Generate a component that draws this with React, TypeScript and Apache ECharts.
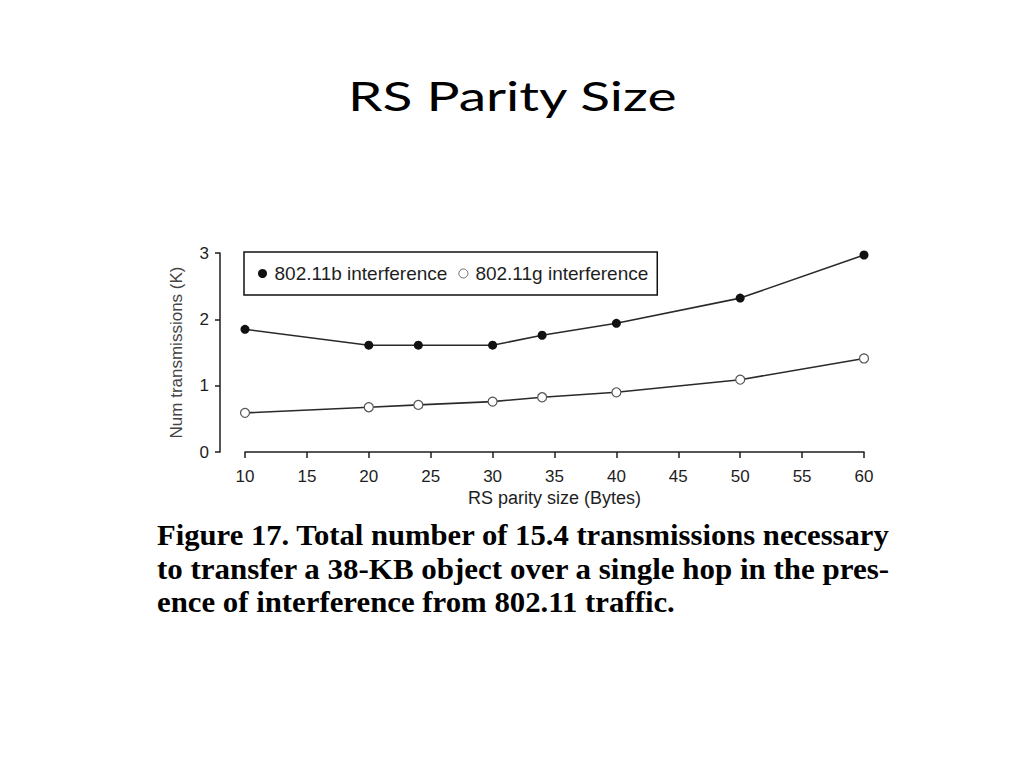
import { useEffect, useRef } from 'react'
import * as echarts from 'echarts'

const parity = [10, 20, 24, 30, 34, 40, 50, 60]
const bInterference = [1.85, 1.61, 1.61, 1.61, 1.76, 1.94, 2.32, 2.97]
const gInterference = [0.59, 0.675, 0.71, 0.76, 0.825, 0.9, 1.09, 1.41]
const seriesNames = ['802.11b interference', '802.11g interference']

const titleText = 'RS Parity Size'
const xName = 'RS parity size (Bytes)'
const yName = 'Num transmissions (K)'
const captionLines = [
  'Figure 17. Total number of 15.4 transmissions necessary',
  'to transfer a 38-KB object over a single hop in the pres-',
  'ence of interference from 802.11 traffic.',
]

const INK = '#1e1e1e'
const SANS = '"Liberation Sans", Arial, sans-serif'
const TITLE_FONT = '41px Lato, "Open Sans", sans-serif'
const CAPTION_FONT = '"Liberation Serif", "Times New Roman", serif'
const CAPTION_SIZE = 29

function textWidth(text: string, font: string, fallback: number) {
  const ctx = document.createElement('canvas').getContext('2d')
  if (!ctx) return fallback
  ctx.font = font
  return ctx.measureText(text).width || fallback
}

export default function App() {
  const chartRef = useRef<HTMLDivElement>(null)

  useEffect(() => {
    if (!chartRef.current) return
    const chart = echarts.init(chartRef.current, undefined, { renderer: 'svg' })

    // the slide is stretched sideways: title spans 348..678
    const titleScale = 330 / textWidth(titleText, TITLE_FONT, 244)

    // caption is justified: first two lines stretched to the full width
    const font = `bold ${CAPTION_SIZE}px ${CAPTION_FONT}`
    const fullWidth = 890 - 157
    const s1 = fullWidth / textWidth(captionLines[0], font, 730)
    const s2 = fullWidth / textWidth(captionLines[1], font, 730)
    const scales = [s1, s2, (s1 + s2) / 2]
    const lineY = [535, 568.5, 602]

    const option: echarts.EChartsOption = {
      animation: false,
      backgroundColor: '#fff',
      graphic: [
        {
          type: 'text',
          x: 348,
          y: 95,
          scaleX: titleScale,
          style: {
            text: titleText,
            font: TITLE_FONT,
            fill: '#000',
            textAlign: 'left',
            textVerticalAlign: 'middle',
          },
        },
        ...captionLines.map((line, i) => ({
          type: 'text' as const,
          x: 157,
          y: lineY[i],
          scaleX: scales[i],
          style: {
            text: line,
            font,
            fill: '#000',
            textAlign: 'left' as const,
            textVerticalAlign: 'middle' as const,
          },
        })),
      ],
      legend: {
        left: 244,
        top: 252,
        orient: 'horizontal',
        padding: [12, 9, 12, 14],
        itemGap: 11,
        itemWidth: 14,
        itemHeight: 9,
        borderColor: '#111',
        borderWidth: 1.5,
        borderRadius: 0,
        textStyle: { fontFamily: SANS, fontSize: 19, color: INK },
        data: [
          { name: seriesNames[0], icon: 'circle', itemStyle: { color: '#111', borderWidth: 0 } },
          {
            name: seriesNames[1],
            icon: 'circle',
            itemStyle: { color: '#fff', borderColor: '#666', borderWidth: 1 },
          },
        ],
      },
      grid: { left: 245, right: 160, top: 253, bottom: 316 },
      xAxis: {
        type: 'value',
        min: 10,
        max: 60,
        interval: 5,
        offset: 7,
        name: xName,
        nameLocation: 'middle',
        nameGap: 30,
        nameTextStyle: { fontFamily: SANS, fontSize: 18, color: INK },
        axisLine: { lineStyle: { color: INK, width: 1.5 } },
        axisTick: { show: true, length: 6, lineStyle: { color: INK, width: 1.5 } },
        axisLabel: { margin: 9, fontFamily: SANS, fontSize: 17, color: INK },
        splitLine: { show: false },
      },
      yAxis: {
        type: 'value',
        min: 0,
        max: 3,
        interval: 1,
        offset: 25,
        name: yName,
        nameLocation: 'middle',
        nameGap: 35,
        nameRotate: 90,
        nameTextStyle: { fontFamily: SANS, fontSize: 17, color: '#444' },
        axisLine: { show: true, lineStyle: { color: INK, width: 1.5 } },
        axisTick: { show: true, length: 5, lineStyle: { color: INK, width: 1.5 } },
        axisLabel: { margin: 11, fontFamily: SANS, fontSize: 17, color: INK },
        splitLine: { show: false },
      },
      series: [
        {
          name: seriesNames[0],
          type: 'line',
          data: parity.map((x, i) => [x, bInterference[i]]),
          symbol: 'circle',
          symbolSize: 9,
          lineStyle: { color: '#2a2a2a', width: 1.6 },
          itemStyle: { color: '#111', borderWidth: 0 },
        },
        {
          name: seriesNames[1],
          type: 'line',
          data: parity.map((x, i) => [x, gInterference[i]]),
          symbol: 'circle',
          symbolSize: 9,
          lineStyle: { color: '#2a2a2a', width: 1.6 },
          itemStyle: { color: '#fff', borderColor: '#555', borderWidth: 1.2 },
        },
      ],
    }

    chart.setOption(option)
    return () => chart.dispose()
  }, [])

  return (
    <div
      ref={chartRef}
      style={{ position: 'absolute', left: 0, top: 0, width: 1024, height: 768 }}
    />
  )
}
